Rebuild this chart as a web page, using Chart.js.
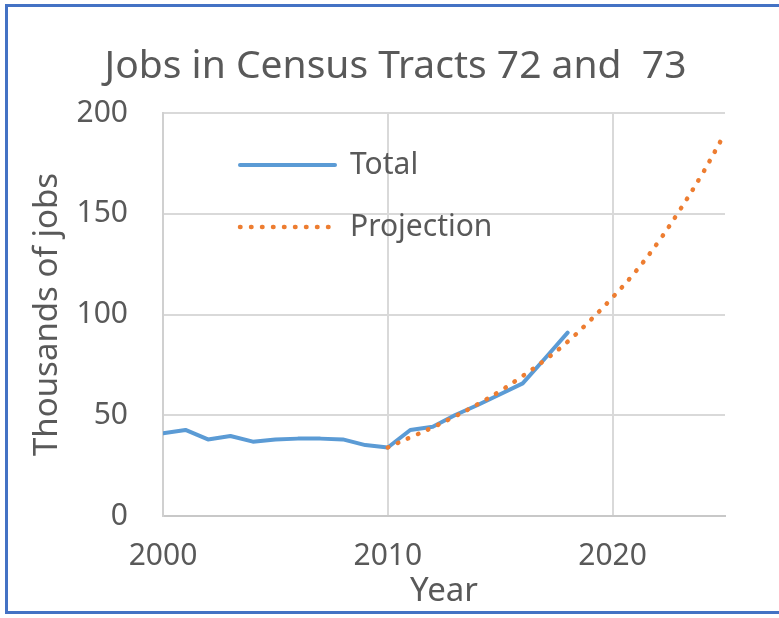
<!DOCTYPE html>
<html>
<head>
<meta charset="utf-8">
<title>Jobs in Census Tracts 72 and 73</title>
<script src="https://cdn.jsdelivr.net/npm/chart.js@4.4.1/dist/chart.umd.min.js"></script>
<style>
    html, body { margin: 0; padding: 0; background: #fff; overflow: hidden; }
    #wrap { position: relative; width: 779px; height: 618px; }
    #frame {
        position: absolute; left: 5px; top: 4px; width: 800px; height: 604px;
        border: 3px solid #4472c4; border-right: none; pointer-events: none;
    }
</style>
</head>
<body>
<div id="wrap">
    <canvas id="jobs-chart" width="779" height="618"></canvas>
    <div id="frame"></div>
</div>
<script>
// values (thousands of jobs)
const totalYears = [2000, 2001, 2002, 2003, 2004, 2005, 2006, 2007, 2008, 2009,
    2010, 2011, 2012, 2013, 2014, 2015, 2016, 2017, 2018];
const totalJobs = [41.0, 42.7, 38.0, 39.7, 36.9, 38.0, 38.4, 38.4, 38.0, 35.2,
    34.0, 42.7, 44.3, 50.1, 55.1, 60.4, 65.8, 78.3, 91.0];

const projectionYears = [2010, 2011, 2012, 2013, 2014, 2015, 2016, 2017,
    2018, 2019, 2020, 2021, 2022, 2023, 2024, 2025];
const projectionJobs = [34.0, 39.0, 44.0, 49.5, 55.5, 62.0, 69.5, 77.5,
    86.5, 97.0, 108.5, 121.0, 135.5, 152.0, 170.0, 190.0];

const xTickValues = [2000, 2010, 2020];
const yTickStep = 50;

const FONT = "'Noto Sans', 'Open Sans', sans-serif";
const TEXT = '#595959';
const GRID = '#d9d9d9';

function points(xs, ys) {
    return xs.map((x, i) => ({ x, y: ys[i] }));
}

// legend sits inside the plot, top-left; put it where the reference has it
const legendNudge = {
    id: 'legendNudge',
    afterLayout(chart) {
        const lg = chart.legend;
        const area = chart.chartArea;
        if (!lg || !area) {
            return;
        }
        lg.left = area.left + 45;
        lg.top = area.top + 5;
        lg.bottom = area.bottom;
    },
};

// point-style legend items lose the dataset's dash, so copy it back
function legendLabels(chart) {
    const items = Chart.defaults.plugins.legend.labels.generateLabels(chart);
    items.forEach((item) => {
        const ds = chart.data.datasets[item.datasetIndex];
        item.lineDash = ds.borderDash || [];
        item.lineCap = ds.borderCapStyle || 'butt';
        item.lineWidth = ds.borderWidth;
    });
    return items;
}

new Chart(document.getElementById('jobs-chart'), {
    type: 'line',
    data: {
        datasets: [
            {
                label: 'Projection',
                data: points(projectionYears, projectionJobs),
                borderColor: '#ed7d31',
                backgroundColor: '#ed7d31',
                borderWidth: 4.5,
                borderDash: [0.5, 10.5],
                borderCapStyle: 'round',
                pointRadius: 0,
                tension: 0.4,
            },
            {
                label: 'Total',
                data: points(totalYears, totalJobs),
                borderColor: '#5b9bd5',
                backgroundColor: '#5b9bd5',
                borderWidth: 4,
                borderCapStyle: 'round',
                borderJoinStyle: 'round',
                pointRadius: 0,
                tension: 0,
            },
        ],
    },
    options: {
        responsive: false,
        animation: false,
        devicePixelRatio: 1,
        layout: { padding: { left: 12, right: 0, top: 0, bottom: 0 } },
        plugins: {
            title: {
                display: true,
                text: 'Jobs in Census Tracts 72 and  73',
                color: TEXT,
                font: { family: FONT, size: 39, weight: 'normal' },
                padding: { top: 43, bottom: 23.2 },
            },
            legend: {
                position: 'chartArea',
                align: 'start',
                labels: {
                    color: TEXT,
                    font: { family: FONT, size: 30 },
                    usePointStyle: true,
                    pointStyle: 'line',
                    pointStyleWidth: 95,
                    padding: 32,
                    generateLabels: legendLabels,
                    sort: (a, b) => b.datasetIndex - a.datasetIndex,
                },
            },
            tooltip: { enabled: false },
        },
        scales: {
            x: {
                type: 'linear',
                min: 2000,
                max: 2025,
                afterBuildTicks(scale) {
                    scale.ticks = xTickValues.map((v) => ({ value: v }));
                },
                afterFit(scale) {
                    scale.height = 102;
                },
                grid: { color: GRID, lineWidth: 2, drawTicks: false },
                border: { color: '#c8c8c8', width: 2 },
                ticks: {
                    color: TEXT,
                    font: { family: FONT, size: 30 },
                    padding: 22,
                    maxRotation: 0,
                    callback: (v) => String(v),
                },
                title: {
                    display: true,
                    text: 'Year',
                    color: TEXT,
                    font: { family: FONT, size: 33 },
                    padding: { top: 0, bottom: 7 },
                },
            },
            y: {
                min: 0,
                max: 200,
                afterFit(scale) {
                    scale.width = 151;
                },
                grid: { color: GRID, lineWidth: 2, drawTicks: false },
                border: { color: '#d0d0d0', width: 2 },
                ticks: {
                    stepSize: yTickStep,
                    color: TEXT,
                    font: { family: FONT, size: 30 },
                    padding: 35,
                },
                title: {
                    display: true,
                    text: 'Thousands of jobs',
                    color: TEXT,
                    font: { family: FONT, size: 33 },
                    padding: { top: 16, bottom: 0 },
                },
            },
            // empty right-hand axis, only reserves the margin right of the plot
            yPad: {
                position: 'right',
                grid: { display: false },
                border: { display: false },
                ticks: { display: false },
                afterFit(scale) {
                    scale.width = 54;
                },
            },
        },
    },
    plugins: [legendNudge],
});
</script>
</body>
</html>
